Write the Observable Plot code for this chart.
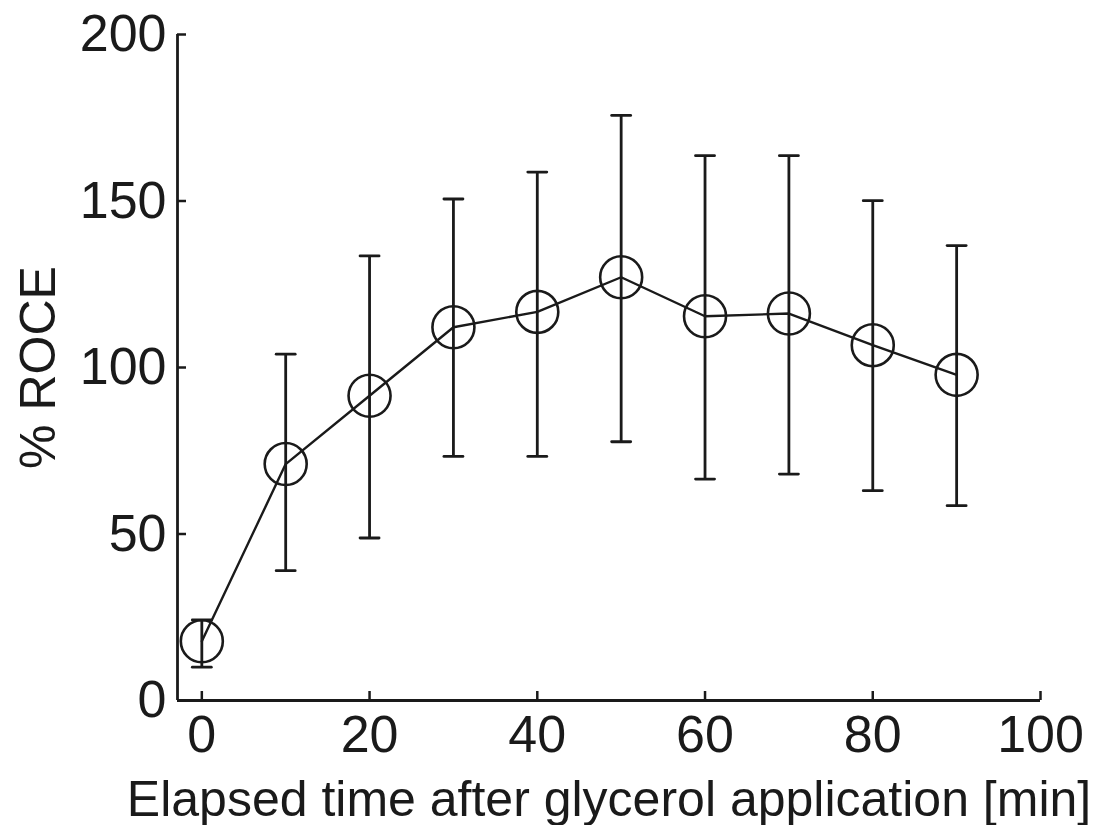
<!DOCTYPE html>
<html>
<head>
<meta charset="utf-8">
<script src="https://cdn.jsdelivr.net/npm/d3@7"></script>
<script src="https://cdn.jsdelivr.net/npm/@observablehq/plot@0.6"></script>
<style>
  html, body { margin: 0; padding: 0; background: #fff; }
  #chart svg { display: block; }
</style>
</head>
<body>
<div id="chart"></div>
<script>
const times = [0, 10, 20, 30, 40, 50, 60, 70, 80, 90];
const meanRoce = [17.8, 71, 91.5, 112.1, 116.7, 127.1, 115.4, 116.2, 106.7, 97.8];
const upperRoce = [24.2, 104, 133.5, 150.6, 158.7, 175.7, 163.6, 163.6, 150.1, 136.6];
const lowerRoce = [10, 39, 48.8, 73.3, 73.3, 77.7, 66.5, 68.0, 63, 58.5];
const xTicks = [0, 20, 40, 60, 80, 100];
const yTicks = [0, 50, 100, 150, 200];
const xDomain = [-2.9, 100];
const yDomain = [0, 200];

const data = times.map((t, i) => ({t, m: meanRoce[i], hi: upperRoce[i], lo: lowerRoce[i]}));

const capShape = {
  draw(context, l) {
    context.moveTo(0, 0);
    context.lineTo(0, -l);
  }
};

const ink = "#1a1a1a";
const chart = Plot.plot({
  width: 1100,
  height: 825,
  marginLeft: 177,
  marginRight: 60,
  marginTop: 34,
  marginBottom: 125,
  style: {fontFamily: "Liberation Sans, Arial, sans-serif", color: ink, background: "#fff"},
  x: {domain: xDomain},
  y: {domain: yDomain},
  marks: [
    Plot.ruleY([yDomain[0]], {stroke: ink, strokeWidth: 2.8}),
    Plot.ruleX([xDomain[0]], {stroke: ink, strokeWidth: 2.8}),
    Plot.axisX(xTicks, {tickSize: -9, tickPadding: 24, fontSize: 52, stroke: ink, strokeWidth: 2.5, fill: ink, label: null}),
    Plot.axisY(yTicks, {tickSize: -9, tickPadding: 20, fontSize: 52, stroke: ink, strokeWidth: 2.5, fill: ink, label: null}),
    Plot.ruleX(data, {x: "t", y1: "lo", y2: "hi", stroke: ink, strokeWidth: 2.8}),
    Plot.vector(data, {x: "t", y: "hi", rotate: 90, length: 19, anchor: "middle", shape: capShape, stroke: ink, strokeWidth: 2.8}),
    Plot.vector(data, {x: "t", y: "lo", rotate: 90, length: 19, anchor: "middle", shape: capShape, stroke: ink, strokeWidth: 2.8}),
    Plot.line(data, {x: "t", y: "m", stroke: ink, strokeWidth: 2.4}),
    Plot.dot(data, {x: "t", y: "m", r: 21, stroke: ink, strokeWidth: 2.6, fill: "none"}),
    Plot.axisX({anchor: "bottom", ticks: [], label: "Elapsed time after glycerol application [min]", labelAnchor: "center", labelArrow: "none", labelOffset: 115, fontSize: 50, fill: ink}),
    Plot.axisY({anchor: "left", ticks: [], label: "% ROCE", labelAnchor: "center", labelArrow: "none", labelOffset: 158, fontSize: 50, fill: ink})
  ]
});
document.getElementById("chart").appendChild(chart);
</script>
</body>
</html>
